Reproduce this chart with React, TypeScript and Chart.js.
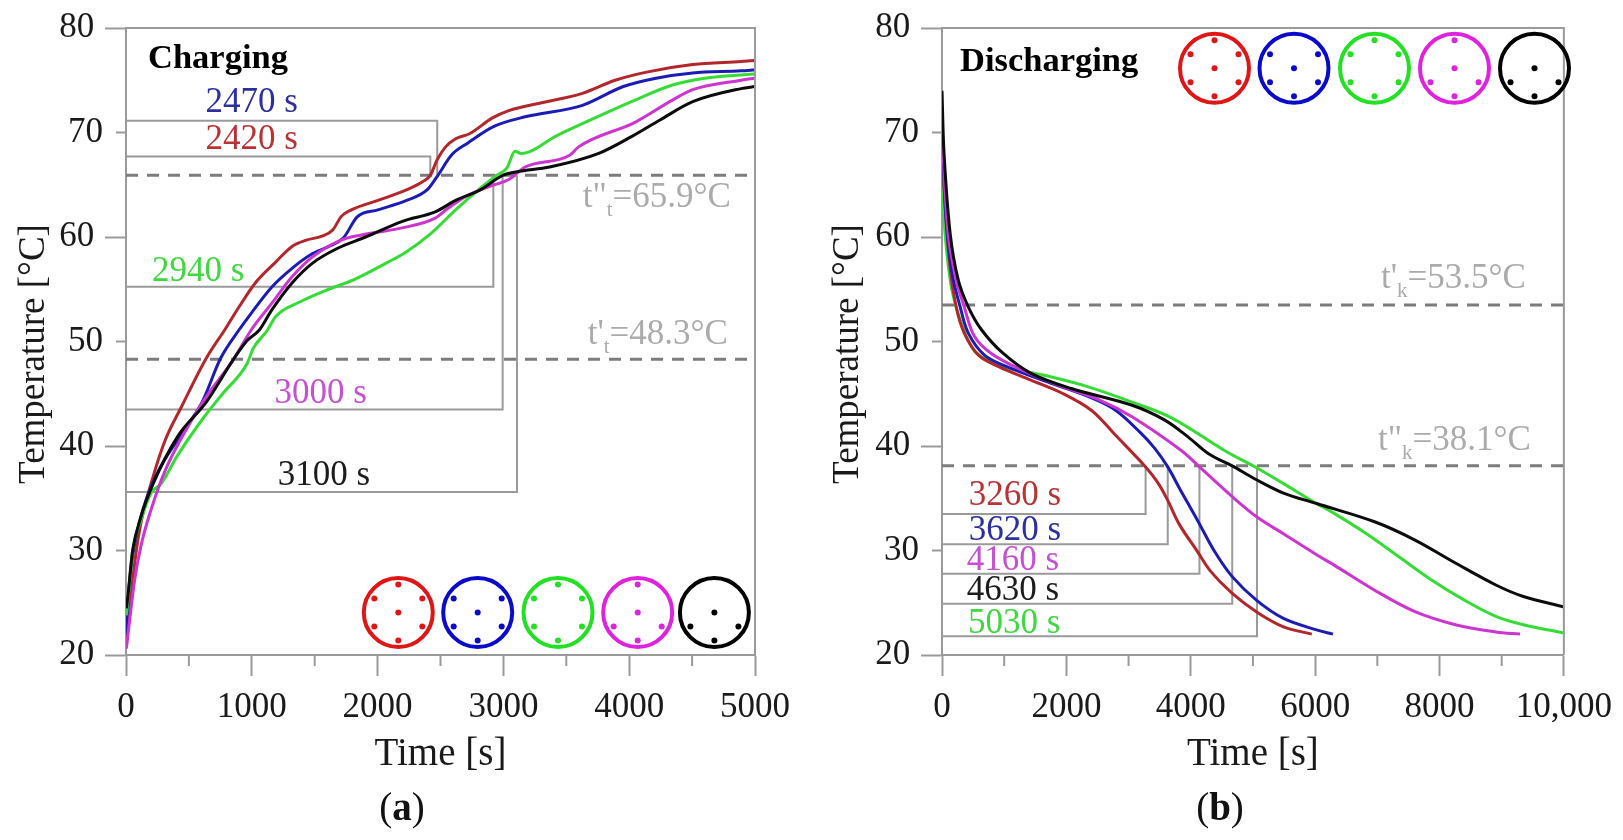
import React, { useEffect, useRef } from "react";
import { Chart, registerables } from "chart.js";

Chart.register(...registerables);

// ---------- data: charging ----------
const chargeRedT = [0, 30, 69, 118, 216, 313, 443, 638, 784, 898, 1028, 1190, 1320, 1434, 1564, 1645, 1710, 1792, 2003, 2230, 2360, 2419, 2474, 2539, 2620, 2734, 2913, 3043, 3303, 3628, 3888, 4148, 4505, 4889, 5000];
const chargeRedV = [20.8, 24.5, 28.8, 32.6, 37.1, 40.6, 43.8, 48.4, 51.1, 53.3, 55.6, 57.6, 59.1, 59.7, 60.1, 60.7, 61.95, 62.6, 63.5, 64.5, 65.3, 65.9, 67.4, 68.6, 69.4, 69.9, 71.4, 72.1, 72.85, 73.75, 75, 75.8, 76.5, 76.8, 76.9];
const chargeBlueT = [0, 4, 37, 118, 232, 427, 605, 752, 898, 995, 1158, 1320, 1467, 1613, 1727, 1840, 2003, 2230, 2393, 2474, 2588, 2718, 2929, 3173, 3628, 3953, 4213, 4505, 4889, 5000];
const chargeBlueV = [22, 23, 28.1, 33.2, 37, 40.9, 44.2, 48.4, 51.1, 52.7, 55.2, 57, 58.3, 59.1, 59.9, 61.95, 62.6, 63.5, 64.5, 65.8, 67.85, 69, 70.6, 71.5, 72.6, 74.4, 75.2, 75.7, 75.9, 76];
const chargeGreenT = [0, 4, 53, 118, 199, 280, 410, 622, 768, 963, 1012, 1125, 1190, 1385, 1613, 1808, 2068, 2230, 2425, 2620, 2815, 2945, 3027, 3092, 3140, 3433, 3693, 4018, 4343, 4603, 4889, 5000];
const chargeGreenV = [23.8, 24, 30, 32.9, 35.5, 36.4, 39.1, 42.8, 45, 47.9, 49.35, 51.1, 52.4, 53.8, 55, 55.9, 57.5, 58.6, 60.35, 62.6, 64.65, 65.9, 66.6, 68.2, 68, 69.75, 71.2, 72.95, 74.55, 75.2, 75.5, 75.6];
const chargeMagentaT = [0, 4, 20, 69, 118, 199, 313, 605, 849, 995, 1158, 1320, 1483, 1710, 1873, 2165, 2458, 2555, 2718, 2880, 2929, 3043, 3173, 3530, 3595, 4050, 4343, 4505, 4889, 5000];
const chargeMagentaV = [20.6, 20.8, 22.4, 27.2, 30.4, 33.9, 37.7, 44.1, 48.2, 51.1, 53.65, 56.2, 58.1, 59.7, 60.2, 60.8, 61.8, 62.7, 64, 64.8, 65, 65.5, 66.7, 67.85, 68.6, 71, 73.1, 74.1, 75, 75.2];
const chargeBlackT = [0, 4, 53, 118, 216, 410, 638, 849, 963, 1060, 1158, 1320, 1483, 1678, 1905, 2198, 2458, 2620, 2815, 2994, 3108, 3368, 3758, 4018, 4245, 4505, 4889, 5000];
const chargeBlackV = [24.5, 24.6, 30, 33.2, 36.4, 40.9, 44.2, 48.2, 50.1, 51.1, 53, 55.6, 57.5, 58.9, 60, 61.5, 62.4, 63.5, 64.5, 65.9, 66.25, 66.7, 68, 69.6, 71.2, 72.95, 74.2, 74.4];

const chargeTimes = [2470, 2420, 2940, 3000, 3100];
const chargeMarks = [2474, 2419, 2920, 2994, 3108];
const chargeLevels = [71.13, 67.7, 55.25, 43.5, 35.6];
const chargeThresholds = [65.9, 48.3];

// ---------- data: discharging ----------
const dischargeRedT = [0, 33, 131, 228, 358, 586, 911, 1431, 1951, 2406, 2796, 3274, 3470, 3630, 3816, 4108, 4320, 4667, 5065, 5491, 5946];
const dischargeRedV = [71, 64.8, 57, 53.3, 50.8, 48.7, 47.6, 46.3, 45, 43.4, 41, 38, 36.5, 34.8, 32.5, 29.9, 28, 25.9, 24.1, 22.7, 22];
const dischargeBlueT = [0, 66, 163, 293, 423, 683, 1041, 1756, 2406, 2796, 3186, 3418, 3630, 3842, 4108, 4374, 4667, 5065, 5491, 6022, 6286];
const dischargeBlueV = [70, 61.6, 56.5, 53.3, 50.8, 48.7, 47.6, 46, 44.6, 43.4, 41.3, 39.8, 38, 35.7, 32.9, 30, 27.5, 25.2, 23.5, 22.4, 22];
const dischargeGreenT = [0, 33, 131, 228, 391, 553, 976, 1626, 2276, 3056, 3706, 4534, 5065, 5491, 6022, 6306, 6826, 7346, 7866, 8386, 8906, 9348, 10000];
const dischargeGreenV = [67, 61.6, 55.9, 53.3, 50.5, 48.9, 47.6, 46.8, 45.8, 44.2, 42.65, 39.6, 37.9, 36.4, 34.5, 33.55, 31.6, 29.4, 27.2, 25.3, 23.7, 22.9, 22.1];
const dischargeMagentaT = [0, 98, 228, 358, 521, 781, 1236, 1886, 2536, 3056, 3842, 4140, 4667, 5065, 5491, 6022, 6306, 6956, 7606, 8256, 8906, 9296];
const dischargeMagentaV = [70, 60.35, 55.9, 53.3, 50.5, 48.9, 47.4, 45.8, 44.4, 42.8, 39.6, 38, 35.15, 33.2, 31.6, 29.6, 28.6, 26.2, 24.15, 22.9, 22.2, 22];
const dischargeBlackT = [0, 33, 131, 261, 424, 638, 976, 1431, 2081, 3056, 3576, 3950, 4300, 4667, 5065, 5491, 6022, 6956, 7606, 8256, 8906, 9348, 10000];
const dischargeBlackV = [74, 68, 60.35, 55.9, 53.3, 51.1, 48.9, 46.95, 45.5, 43.9, 42.5, 40.9, 39.2, 38.1, 36.75, 35.5, 34.5, 32.75, 31, 28.8, 26.7, 25.6, 24.6];

const dischargeTimes = [3260, 3620, 4160, 4630, 5030];
const dischargeMarks = [3274, 3630, 4140, 4667, 5065];
const dischargeLevels = [33.5, 30.6, 27.77, 24.9, 21.8];
const dischargeThresholds = [53.5, 38.1];

// ---------- styles ----------
const RED = "#b3262b";
const BLUE = "#1c1cb4";
const GREEN = "#35dc35";
const MAGENTA = "#cc35cf";
const BLACK = "#0c0c0c";
const AXIS = "#9a9a9a";
const DASH = "#7c7c7c";
const SOFT = "#ababab";
const FONT = "'Liberation Serif', serif";

const pts = (xs: number[], ys: number[]) => xs.map((x, i) => ({ x, y: ys[i] }));

const curve = (data: any[], color: string) => ({
  data,
  borderColor: color,
  borderWidth: 3,
  pointRadius: 0,
  cubicInterpolationMode: "monotone",
  fill: false,
});
const soft = (data: any[], color: string) => ({
  data,
  borderColor: color,
  borderWidth: 3,
  pointRadius: 0,
  tension: 0.35,
  fill: false,
});
const straight = (data: any[], color: string, width: number, dash: number[] = []) => ({
  data,
  borderColor: color,
  borderWidth: width,
  borderDash: dash,
  pointRadius: 0,
  tension: 0,
  fill: false,
});

type Note = { text: string; x: number; y: number; color: string };
type Thr = { head: string; sub: string; tail: string; x: number; y: number };
type Icon = { cx: number; color: string; dots: string };

const icons = (cxs: number[]): Icon[] => [
  { cx: cxs[0], color: "#e01616", dots: "tbcULR" },
  { cx: cxs[1], color: "#0a0acc", dots: "bcULR" },
  { cx: cxs[2], color: "#22e022", dots: "tbULR" },
  { cx: cxs[3], color: "#e022e0", dots: "tbcLR" },
  { cx: cxs[4], color: "#000000", dots: "bcLR" },
];

function overlay(o: {
  title: string;
  titleX: number;
  titleY: number;
  yTitleX: number;
  labelEvery: number;
  icons: Icon[];
  iconY: number;
  notes: Note[];
  thresholds: Thr[];
  panel: string;
  panelX: number;
}) {
  return {
    id: "overlay",
    afterDraw(chart: any) {
      const { ctx, chartArea: a, scales } = chart;
      ctx.save();
      // frame
      ctx.strokeStyle = AXIS;
      ctx.lineWidth = 2;
      ctx.beginPath();
      ctx.moveTo(a.left, a.top);
      ctx.lineTo(a.right, a.top);
      ctx.lineTo(a.right, a.bottom);
      ctx.stroke();
      // short ticks
      ctx.beginPath();
      for (const t of scales.x.ticks) {
        if (t.value % o.labelEvery !== 0) {
          const p = scales.x.getPixelForValue(t.value);
          ctx.moveTo(p, a.bottom);
          ctx.lineTo(p, a.bottom + 11);
        }
      }
      for (const t of scales.y.ticks) {
        if (t.value % 20 !== 0) {
          const p = scales.y.getPixelForValue(t.value);
          ctx.moveTo(a.left, p);
          ctx.lineTo(a.left - 10, p);
        }
      }
      ctx.stroke();

      // heading
      ctx.fillStyle = "#000";
      ctx.textBaseline = "middle";
      ctx.textAlign = "left";
      ctx.font = `bold 34.5px ${FONT}`;
      ctx.fillText(o.title, o.titleX, o.titleY);

      // value labels
      ctx.font = `35px ${FONT}`;
      ctx.textAlign = "center";
      for (const n of o.notes) {
        ctx.fillStyle = n.color;
        ctx.fillText(n.text, scales.x.getPixelForValue(n.x), scales.y.getPixelForValue(n.y));
      }

      // threshold labels
      ctx.textAlign = "left";
      ctx.textBaseline = "alphabetic";
      ctx.fillStyle = SOFT;
      for (const t of o.thresholds) {
        let x = scales.x.getPixelForValue(t.x);
        const y = scales.y.getPixelForValue(t.y);
        ctx.font = `35px ${FONT}`;
        ctx.fillText(t.head, x, y);
        x += ctx.measureText(t.head).width;
        ctx.font = `21px ${FONT}`;
        ctx.fillText(t.sub, x, y + 9);
        x += ctx.measureText(t.sub).width;
        ctx.font = `35px ${FONT}`;
        ctx.fillText(t.tail, x, y);
      }

      // icons
      const offs: Record<string, number[][]> = {
        t: [[0, -28]],
        b: [[0, 28]],
        c: [[0, 0]],
        U: [[-24, -14], [24, -14]],
        L: [[-24, 14]],
        R: [[24, 14]],
      };
      for (const ic of o.icons) {
        ctx.strokeStyle = ic.color;
        ctx.fillStyle = ic.color;
        ctx.lineWidth = 4;
        ctx.beginPath();
        ctx.arc(ic.cx, o.iconY, 34.5, 0, Math.PI * 2);
        ctx.stroke();
        for (const k of ic.dots) {
          for (const [dx, dy] of offs[k]) {
            ctx.beginPath();
            ctx.arc(ic.cx + dx, o.iconY + dy, 3, 0, Math.PI * 2);
            ctx.fill();
          }
        }
      }

      // y title
      ctx.save();
      ctx.translate(o.yTitleX, 354);
      ctx.rotate(-Math.PI / 2);
      ctx.textAlign = "center";
      ctx.textBaseline = "middle";
      ctx.fillStyle = "#1a1a1a";
      ctx.font = `37px ${FONT}`;
      ctx.fillText("Temperature [°C]", 0, 0);
      ctx.restore();

      // panel label
      ctx.fillStyle = "#111";
      ctx.textBaseline = "alphabetic";
      ctx.textAlign = "left";
      ctx.font = `39px ${FONT}`;
      const open = ctx.measureText("(").width;
      ctx.font = `bold 39px ${FONT}`;
      const mid = ctx.measureText(o.panel).width;
      let px = o.panelX - (open * 2 + mid) / 2;
      ctx.font = `39px ${FONT}`;
      ctx.fillText("(", px, 820);
      px += open;
      ctx.font = `bold 39px ${FONT}`;
      ctx.fillText(o.panel, px, 820);
      px += mid;
      ctx.font = `39px ${FONT}`;
      ctx.fillText(")", px, 820);
      ctx.restore();
    },
  };
}

function makeChart(
  canvas: HTMLCanvasElement,
  cfg: {
    width: number;
    plotLeft: number;
    plotRight: number;
    xMax: number;
    step: number;
    labelEvery: number;
    datasets: any[];
    plugin: any;
  }
) {
  const H = 840;
  const { width, plotLeft, plotRight } = cfg;
  return new Chart(canvas, {
    type: "line",
    data: { datasets: cfg.datasets },
    options: {
      responsive: false,
      animation: false,
      devicePixelRatio: 1,
      layout: { padding: { top: 28, right: width - plotRight, left: 0, bottom: 0 } },
      plugins: { legend: { display: false }, tooltip: { enabled: false }, title: { display: false } },
      scales: {
        x: {
          type: "linear",
          min: 0,
          max: cfg.xMax,
          afterFit: (s: any) => {
            s.height = H - 655;
          },
          border: { color: AXIS, width: 2 },
          grid: {
            drawOnChartArea: false,
            tickLength: 21,
            tickWidth: 2,
            tickColor: (c: any) => (c.tick && c.tick.value % cfg.labelEvery === 0 ? AXIS : "transparent"),
          },
          ticks: {
            stepSize: cfg.step,
            autoSkip: false,
            maxRotation: 0,
            padding: 11,
            color: "#1a1a1a",
            font: { family: FONT, size: 35 },
            callback: (v: any) => {
              if (v % cfg.labelEvery !== 0) return "";
              return v === 10000 ? "10,000" : String(v);
            },
          },
          title: {
            display: true,
            text: "Time [s]",
            color: "#1a1a1a",
            font: { family: FONT, size: 39 },
            padding: { top: 0, bottom: 62 },
          },
        },
        y: {
          type: "linear",
          min: 20,
          max: 80,
          afterFit: (s: any) => {
            s.width = plotLeft;
          },
          border: { color: AXIS, width: 2 },
          grid: {
            drawOnChartArea: false,
            tickLength: 21,
            tickWidth: 2,
            tickColor: (c: any) => (c.tick && c.tick.value % 20 === 0 ? AXIS : "transparent"),
          },
          ticks: {
            stepSize: 10,
            padding: 2,
            color: "#1a1a1a",
            font: { family: FONT, size: 35 },
            callback: (v: any) => (v % 20 === 0 ? `${v}\u00A0` : `${v}`),
          },
        },
      },
    } as any,
    plugins: [cfg.plugin],
  } as any);
}

export default function App() {
  const a = useRef<HTMLCanvasElement>(null);
  const b = useRef<HTMLCanvasElement>(null);

  useEffect(() => {
    const bracket = (t: number, lvl: number, thr: number) => [
      { x: 0, y: lvl },
      { x: t, y: lvl },
      { x: t, y: thr },
    ];
    const left = makeChart(a.current!, {
      width: 830,
      plotLeft: 126,
      plotRight: 755,
      xMax: 5000,
      step: 500,
      labelEvery: 1000,
      datasets: [
        curve(pts(chargeBlackT, chargeBlackV), BLACK),
        curve(pts(chargeMagentaT, chargeMagentaV), MAGENTA),
        curve(pts(chargeGreenT, chargeGreenV), GREEN),
        curve(pts(chargeBlueT, chargeBlueV), BLUE),
        curve(pts(chargeRedT, chargeRedV), RED),
        ...chargeMarks.map((t, i) => straight(bracket(t, chargeLevels[i], chargeThresholds[0]), AXIS, 2)),
        ...chargeThresholds.map((v) =>
          straight([{ x: 0, y: v }, { x: 5000, y: v }], DASH, 3, [12, 9])
        ),
      ],
      plugin: overlay({
        title: "Charging",
        titleX: 148,
        titleY: 59,
        yTitleX: 34,
        labelEvery: 1000,
        icons: icons([398.3, 477.7, 558, 637.7, 714.4]),
        iconY: 612.5,
        panel: "a",
        panelX: 402,
        notes: [
          { text: `${chargeTimes[0]} s`, x: 1000, y: 72.8, color: "#2c2fa0" },
          { text: `${chargeTimes[1]} s`, x: 1000, y: 69.3, color: "#b83236" },
          { text: `${chargeTimes[2]} s`, x: 573, y: 56.7, color: "#3fd83f" },
          { text: `${chargeTimes[3]} s`, x: 1548, y: 45.0, color: "#c650d2" },
          { text: `${chargeTimes[4]} s`, x: 1574, y: 37.1, color: "#1c1c1c" },
        ],
        thresholds: [
          { head: 't"', sub: "t", tail: `=${chargeThresholds[0]}°C`, x: 3630, y: 62.9 },
          { head: "t'", sub: "t", tail: `=${chargeThresholds[1]}°C`, x: 3670, y: 49.8 },
        ],
      }),
    });
    const right = makeChart(b.current!, {
      width: 793,
      plotLeft: 112,
      plotRight: 739,
      xMax: 10000,
      step: 1000,
      labelEvery: 2000,
      datasets: [
        soft(pts(dischargeBlackT, dischargeBlackV), BLACK),
        soft(pts(dischargeMagentaT, dischargeMagentaV), MAGENTA),
        soft(pts(dischargeBlueT, dischargeBlueV), BLUE),
        soft(pts(dischargeRedT, dischargeRedV), RED),
        soft(pts(dischargeGreenT, dischargeGreenV), GREEN),
        ...dischargeMarks.map((t, i) => straight(bracket(t, dischargeLevels[i], dischargeThresholds[1]), AXIS, 2)),
        ...dischargeThresholds.map((v) =>
          straight([{ x: 0, y: v }, { x: 10000, y: v }], DASH, 3, [12, 9])
        ),
      ],
      plugin: overlay({
        title: "Discharging",
        titleX: 130,
        titleY: 62,
        yTitleX: 18,
        labelEvery: 2000,
        icons: icons([384.5, 464, 544.5, 624.5, 704.5]),
        iconY: 68.3,
        panel: "b",
        panelX: 390,
        notes: [
          { text: `${dischargeTimes[0]} s`, x: 1171, y: 35.2, color: "#b83236" },
          { text: `${dischargeTimes[1]} s`, x: 1171, y: 31.9, color: "#2c2fa0" },
          { text: `${dischargeTimes[2]} s`, x: 1140, y: 29.0, color: "#c650d2" },
          { text: `${dischargeTimes[3]} s`, x: 1140, y: 26.1, color: "#1c1c1c" },
          { text: `${dischargeTimes[4]} s`, x: 1160, y: 23.0, color: "#3fd83f" },
        ],
        thresholds: [
          { head: "t'", sub: "k", tail: `=${dischargeThresholds[0]}°C`, x: 7060, y: 55.1 },
          { head: 't"', sub: "k", tail: `=${dischargeThresholds[1]}°C`, x: 7010, y: 39.6 },
        ],
      }),
    });
    return () => {
      left.destroy();
      right.destroy();
    };
  }, []);

  return (
    <div style={{ position: "absolute", left: 0, top: 0, width: 1623, height: 840, overflow: "hidden", background: "#fff" }}>
      <canvas ref={a} width={830} height={840} style={{ position: "absolute", left: 0, top: 0, width: 830, height: 840 }} />
      <canvas ref={b} width={793} height={840} style={{ position: "absolute", left: 830, top: 0, width: 793, height: 840 }} />
    </div>
  );
}
